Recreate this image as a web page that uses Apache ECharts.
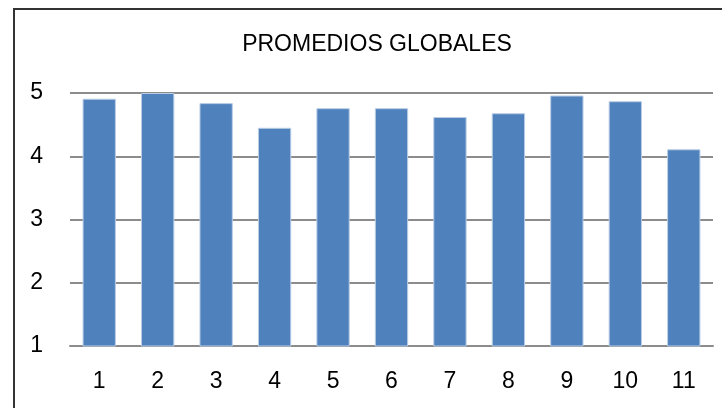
<!DOCTYPE html>
<html>
<head>
<meta charset="utf-8">
<script src="https://cdn.jsdelivr.net/npm/echarts@6/dist/echarts.min.js"></script>
<style>html,body{margin:0;padding:0;background:#fff}#c{width:722px;height:408px}</style>
</head>
<body>
<div id="c"></div>
<script>
var titleText = 'PROMEDIOS GLOBALES';
var categories = ['1','2','3','4','5','6','7','8','9','10','11'];
var values = [4.91, 5.0, 4.84, 4.45, 4.76, 4.76, 4.62, 4.68, 4.96, 4.87, 4.11];
var yTicks = [1, 2, 3, 4, 5];

var FONT = '"Liberation Sans", Arial, sans-serif';
var chart = echarts.init(document.getElementById('c'), null, {renderer: 'canvas'});
chart.setOption({
  animation: false,
  backgroundColor: '#ffffff',
  title: {
    text: titleText,
    left: 377,
    top: 33,
    padding: 0,
    textAlign: 'center',
    textStyle: {fontFamily: FONT, fontSize: 23, fontWeight: 'normal', color: '#000'}
  },
  graphic: [{
    type: 'rect',
    shape: {x: 14, y: 9, width: 800, height: 500},
    style: {fill: null, stroke: '#333333', lineWidth: 2},
    silent: true
  }],
  grid: {left: 70, right: 9, top: 93, bottom: 62, containLabel: false},
  xAxis: {
    type: 'category',
    data: categories,
    axisLine: {lineStyle: {color: '#8c8c8c', width: 2}},
    axisTick: {show: false},
    axisLabel: {fontFamily: FONT, fontSize: 23, color: '#000', margin: 24}
  },
  yAxis: {
    type: 'value',
    min: yTicks[0],
    max: yTicks[yTicks.length - 1],
    interval: 1,
    axisLine: {show: false},
    axisTick: {show: false},
    splitLine: {lineStyle: {color: '#8c8c8c', width: 2}},
    axisLabel: {fontFamily: FONT, fontSize: 23, color: '#000', margin: 27}
  },
  series: [{
    type: 'bar',
    data: values,
    barWidth: '57%',
    itemStyle: {color: '#4F81BD', borderColor: '#b9cde5', borderWidth: 1}
  }]
});
</script>
</body>
</html>
